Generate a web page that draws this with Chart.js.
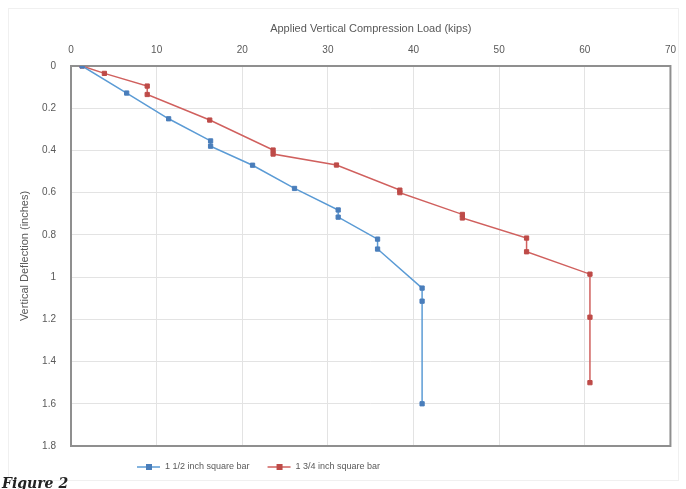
<!DOCTYPE html>
<html>
<head>
<meta charset="utf-8">
<script src="https://cdn.jsdelivr.net/npm/chart.js@4.4.1/dist/chart.umd.min.js"></script>
<style>
    html, body { margin: 0; padding: 0; background: #fff; }
    #wrap { position: relative; width: 686px; height: 489px; overflow: hidden; }
    #fig { position: absolute; left: 2px; top: 475px; font: italic bold 14px "DejaVu Serif", serif; color: #222; }
</style>
</head>
<body>
<div id="wrap">
    <canvas id="deflChart" width="686" height="489"></canvas>
    <div id="fig">Figure 2</div>
</div>
<script>
// Values (load in kips, deflection in inches)
const seriesNames = ['1 1/2 inch square bar', '1 3/4 inch square bar'];
const blueLoad = [1.3, 6.5, 11.4, 16.3, 16.3, 21.2, 26.1, 31.2, 31.2, 35.8, 35.8, 41.0, 41.0, 41.0];
const blueDefl = [0, 0.128, 0.25, 0.355, 0.38, 0.47, 0.58, 0.682, 0.716, 0.82, 0.867, 1.052, 1.114, 1.6];
const redLoad = [1.3, 3.9, 8.9, 8.9, 16.2, 23.6, 23.6, 31.0, 38.4, 38.4, 45.7, 45.7, 53.2, 53.2, 60.6, 60.6, 60.6];
const redDefl = [0, 0.035, 0.095, 0.135, 0.256, 0.398, 0.417, 0.469, 0.588, 0.6, 0.703, 0.72, 0.815, 0.88, 0.986, 1.19, 1.5];
const loadTicks = { min: 0, max: 70, step: 10 };
const deflTicks = { min: 0, max: 1.8, step: 0.2 };

const textGray = '#595959';
const font = '"Liberation Sans", Arial, sans-serif';

function toPoints(xs, ys) {
    return xs.map((x, i) => ({ x: x, y: ys[i] }));
}

// frame around the plot area, drawn under the lines
const plotFrame = {
    id: 'plotFrame',
    beforeDatasetsDraw(chart) {
        const a = chart.chartArea;
        const ctx = chart.ctx;
        ctx.save();
        ctx.strokeStyle = '#f0f0f0';
        ctx.lineWidth = 1;
        ctx.strokeRect(8.5, 8.5, 670, 472);
        ctx.strokeStyle = '#8f8f8f';
        ctx.lineWidth = 2;
        ctx.strokeRect(a.left, a.top, a.right - a.left, a.bottom - a.top);
        ctx.restore();
    }
};

// Excel style legend: line + marker + text, sits left of centre
const lineLegend = {
    id: 'lineLegend',
    afterDraw(chart) {
        const ctx = chart.ctx;
        let x = 137;
        const y = 467;
        ctx.save();
        ctx.font = '9px ' + font;
        ctx.textBaseline = 'middle';
        chart.data.datasets.forEach(ds => {
            ctx.strokeStyle = ds.borderColor;
            ctx.lineWidth = 1.5;
            ctx.beginPath();
            ctx.moveTo(x, y);
            ctx.lineTo(x + 23, y);
            ctx.stroke();
            ctx.fillStyle = ds.pointBackgroundColor;
            ctx.fillRect(x + 9, y - 3, 6, 6);
            ctx.fillStyle = textGray;
            ctx.fillText(ds.label, x + 28, y);
            x += 28 + ctx.measureText(ds.label).width + 18;
        });
        ctx.restore();
    }
};

const ctx = document.getElementById('deflChart').getContext('2d');
const chart = new Chart(ctx, {
    type: 'scatter',
    data: {
        datasets: [
            {
                label: seriesNames[0],
                data: toPoints(blueLoad, blueDefl),
                showLine: true,
                borderColor: '#5b9bd5',
                borderWidth: 1.5,
                pointStyle: 'rect',
                pointRadius: 3,
                pointBackgroundColor: '#4a7ebb',
                pointBorderColor: '#4a7ebb',
                pointBorderWidth: 1
            },
            {
                label: seriesNames[1],
                data: toPoints(redLoad, redDefl),
                showLine: true,
                borderColor: '#d0605e',
                borderWidth: 1.5,
                pointStyle: 'rect',
                pointRadius: 3,
                pointBackgroundColor: '#be4b48',
                pointBorderColor: '#be4b48',
                pointBorderWidth: 1
            }
        ]
    },
    options: {
        responsive: false,
        animation: false,
        layout: { padding: { left: 0, right: 15, top: 0, bottom: 43 } },
        plugins: {
            legend: { display: false },
            tooltip: { enabled: false }
        },
        scales: {
            x: {
                type: 'linear',
                position: 'top',
                min: loadTicks.min,
                max: loadTicks.max,
                ticks: {
                    stepSize: loadTicks.step,
                    color: textGray,
                    font: { family: font, size: 10 },
                    padding: 10,
                    maxRotation: 0
                },
                grid: { color: '#e3e3e3', drawTicks: false },
                border: { display: false },
                title: {
                    display: true,
                    text: 'Applied Vertical Compression Load (kips)',
                    color: textGray,
                    font: { family: font, size: 11 },
                    padding: { top: 22, bottom: 7 }
                },
                afterFit(scale) { scale.height = 66; }
            },
            y: {
                type: 'linear',
                reverse: true,
                min: deflTicks.min,
                max: deflTicks.max,
                ticks: {
                    stepSize: deflTicks.step,
                    color: textGray,
                    font: { family: font, size: 10 },
                    padding: 15,
                    callback: v => String(Number(v.toFixed(1)))
                },
                grid: { color: '#e3e3e3', drawTicks: false },
                border: { display: false },
                title: {
                    display: true,
                    text: 'Vertical Deflection (inches)',
                    color: textGray,
                    font: { family: font, size: 11 },
                    padding: { top: 18, bottom: 0 }
                },
                afterFit(scale) { scale.width = 71; }
            }
        }
    },
    plugins: [plotFrame, lineLegend]
});
</script>
</body>
</html>
